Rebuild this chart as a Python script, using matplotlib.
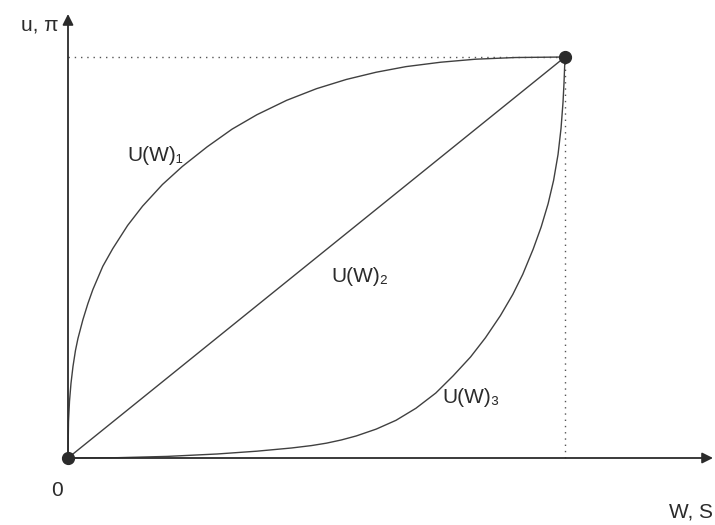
import matplotlib
matplotlib.use("Agg")
import matplotlib.pyplot as plt

# curve points (0..1 on both axes)
concave_x = [0.0, 0.001, 0.003, 0.006, 0.01, 0.015, 0.02, 0.03, 0.04, 0.05,
             0.07, 0.09, 0.12, 0.15, 0.19, 0.23, 0.28, 0.33, 0.38, 0.44,
             0.50, 0.56, 0.62, 0.68, 0.75, 0.82, 0.90, 1.0]
concave_y = [0.0, 0.091, 0.141, 0.186, 0.228, 0.268, 0.298, 0.345, 0.385, 0.420,
             0.478, 0.522, 0.580, 0.628, 0.682, 0.727, 0.776, 0.820, 0.856, 0.892,
             0.921, 0.944, 0.962, 0.976, 0.987, 0.9945, 0.9987, 1.0]

linear_x = [0.0, 1.0]
linear_y = [0.0, 1.0]

convex_x = [0.0, 0.10, 0.20, 0.30, 0.38, 0.45, 0.49, 0.52, 0.55, 0.58,
            0.62, 0.66, 0.70, 0.74, 0.775, 0.81, 0.84, 0.87, 0.895, 0.915,
            0.936, 0.952, 0.966, 0.977, 0.986, 0.992, 0.996, 0.998, 1.0]
convex_y = [0.0, 0.0008, 0.004, 0.010, 0.017, 0.025, 0.031, 0.037, 0.045, 0.055,
            0.072, 0.094, 0.124, 0.162, 0.205, 0.252, 0.300, 0.355, 0.408, 0.458,
            0.521, 0.576, 0.634, 0.692, 0.757, 0.822, 0.887, 0.935, 1.0]

curve_labels = ["U(W)₁", "U(W)₂", "U(W)₃"]
label_pos = [(0.175, 0.755), (0.588, 0.452), (0.81, 0.15)]

axis_labels = ["u, π", "W, S", "0"]

W, H = 715, 525
ox, oy = 68, 458      # origin in pixels
sx, sy = 497, 401     # pixels per unit

fig = plt.figure(figsize=(W / 100, H / 100), dpi=100)
ax = fig.add_axes([0, 0, 1, 1])
ax.set_xlim(-ox / sx, (W - ox) / sx)
ax.set_ylim(-(H - oy) / sy, oy / sy)
ax.axis("off")

ink = "#2b2b2b"
curve_col = "#404040"
font = ["Liberation Sans", "DejaVu Sans"]

# dotted guide lines
ax.plot([0, 1], [1, 1], linestyle=(0, (1, 3.5)), color="#555555", lw=1.0)
ax.plot([1, 1], [0, 1], linestyle=(0, (1, 3.5)), color="#555555", lw=1.0)

# curves
ax.plot(concave_x, concave_y, color=curve_col, lw=1.0)
ax.plot(linear_x, linear_y, color=curve_col, lw=1.0)
ax.plot(convex_x, convex_y, color=curve_col, lw=1.0)

# axes with arrows
x_end = (713 - ox) / sx
y_end = (oy - 14) / sy
arrow = dict(arrowstyle="-|>", color=ink, lw=1.3, mutation_scale=16,
             shrinkA=0, shrinkB=0)
ax.annotate("", xy=(x_end, 0), xytext=(0, 0), arrowprops=arrow)
ax.annotate("", xy=(0, y_end), xytext=(0, 0), arrowprops=arrow)

# end points
ax.plot([0, 1], [0, 1], "o", color=ink, markersize=8.5, zorder=5)

# labels
for txt, (lx, ly) in zip(curve_labels, label_pos):
    ax.text(lx, ly, txt, fontsize=15, family=font, color=ink,
            ha="center", va="center")

ax.text((40 - ox) / sx, (oy - 25) / sy, axis_labels[0], fontsize=15,
        family=font, color=ink, ha="center", va="center")
ax.text((713 - ox) / sx, (oy - 512) / sy, axis_labels[1], fontsize=15,
        family=font, color=ink, ha="right", va="center")
ax.text((57 - ox) / sx, (oy - 491) / sy, axis_labels[2], fontsize=15,
        family=font, color=ink, ha="center", va="center")

fig.savefig("out.png", dpi=100)
